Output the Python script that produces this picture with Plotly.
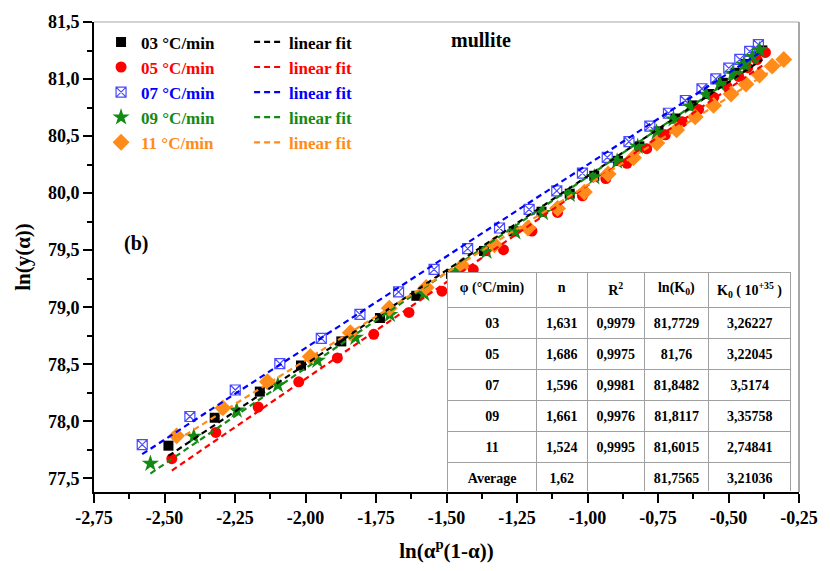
import numpy as np
import plotly.graph_objects as go

# ln(alpha^p (1-alpha)) vs ln(y(alpha)) for each heating rate
x03 = [-2.486, -2.322, -2.162, -2.016, -1.873, -1.736, -1.607, -1.484, -1.367, -1.262, -1.163, -1.063,
       -0.976, -0.892, -0.816, -0.748, -0.689, -0.627, -0.569, -0.520, -0.475, -0.440, -0.404, -0.380]
y03 = [77.786, 78.031, 78.260, 78.489, 78.700, 78.905, 79.100, 79.292, 79.493, 79.665, 79.837, 79.995,
       80.152, 80.283, 80.410, 80.541, 80.654, 80.769, 80.869, 80.967, 81.055, 81.132, 81.199, 81.251]

x05 = [-2.474, -2.318, -2.168, -2.024, -1.887, -1.758, -1.633, -1.516, -1.405, -1.298, -1.197, -1.106,
       -1.018, -0.935, -0.860, -0.790, -0.724, -0.664, -0.606, -0.552, -0.506, -0.464, -0.432, -0.399, -0.369]
y05 = [77.672, 77.902, 78.125, 78.346, 78.555, 78.762, 78.954, 79.140, 79.330, 79.504, 79.668, 79.831,
       79.977, 80.128, 80.261, 80.390, 80.511, 80.625, 80.734, 80.840, 80.937, 81.023, 81.100, 81.171, 81.233]

x07 = [-2.579, -2.410, -2.249, -2.091, -1.944, -1.807, -1.670, -1.544, -1.425, -1.312, -1.207, -1.109,
       -1.018, -0.930, -0.853, -0.779, -0.713, -0.653, -0.594, -0.545, -0.499, -0.460, -0.425, -0.394]
y07 = [77.795, 78.042, 78.274, 78.506, 78.726, 78.937, 79.134, 79.332, 79.513, 79.694, 79.857, 80.020,
       80.175, 80.313, 80.451, 80.588, 80.700, 80.812, 80.915, 81.001, 81.096, 81.173, 81.242, 81.302]

x09 = [-2.550, -2.396, -2.244, -2.098, -1.958, -1.823, -1.701, -1.579, -1.467, -1.358, -1.256, -1.158,
       -1.063, -0.976, -0.895, -0.822, -0.755, -0.695, -0.636, -0.580, -0.531, -0.485, -0.446, -0.415, -0.390]
y09 = [77.629, 77.867, 78.096, 78.317, 78.532, 78.734, 78.934, 79.117, 79.311, 79.487, 79.659, 79.827,
       79.986, 80.141, 80.278, 80.408, 80.532, 80.648, 80.760, 80.863, 80.958, 81.048, 81.126, 81.195, 81.255]

x11 = [-2.457, -2.293, -2.135, -1.983, -1.841, -1.703, -1.572, -1.444, -1.330, -1.211, -1.106, -1.011,
       -0.927, -0.837, -0.754, -0.684, -0.618, -0.553, -0.491, -0.438, -0.390, -0.345, -0.304]
y11 = [77.872, 78.117, 78.346, 78.567, 78.776, 78.991, 79.173, 79.364, 79.547, 79.694, 79.866, 80.009,
       80.167, 80.310, 80.439, 80.554, 80.668, 80.769, 80.869, 80.955, 81.035, 81.113, 81.171]

rates = ["03 °C/min", "05 °C/min", "07 °C/min", "09 °C/min", "11 °C/min"]

# kinetic parameters table
tab_phi = ["03", "05", "07", "09", "11", "Average"]
tab_n = ["1,631", "1,686", "1,596", "1,661", "1,524", "1,62"]
tab_r2 = ["0,9979", "0,9975", "0,9981", "0,9976", "0,9995", ""]
tab_lnk0 = ["81,7729", "81,76", "81,8482", "81,8117", "81,6015", "81,7565"]
tab_k0 = ["3,26227", "3,22045", "3,5174", "3,35758", "2,74841", "3,21036"]
tab_head = ["φ\u00a0(°C/min)", "n", "R<sup>2</sup>", "ln(K<sub>0</sub>)",
            "K<sub>0</sub>\u00a0(\u00a010<sup>+35</sup>\u00a0)"]

x_tickvals = [-2.75, -2.50, -2.25, -2.00, -1.75, -1.50, -1.25, -1.00, -0.75, -0.50, -0.25]
x_ticktext = ["-2,75", "-2,50", "-2,25", "-2,00", "-1,75", "-1,50", "-1,25", "-1,00", "-0,75", "-0,50", "-0,25"]
y_tickvals = [77.5, 78.0, 78.5, 79.0, 79.5, 80.0, 80.5, 81.0, 81.5]
y_ticktext = ["77,5", "78,0", "78,5", "79,0", "79,5", "80,0", "80,5", "81,0", "81,5"]

SERIF = "Liberation Serif, Times New Roman, serif"

series = [
    (x03, y03, "#000000", "#000000", dict(symbol="square", size=10)),
    (x05, y05, "#ff0000", "#ff0000", dict(symbol="circle", size=11)),
    (x07, y07, "#0000ff", "#4a4aff", dict(symbol="square-x-open", size=10, line=dict(width=1.2))),
    (x09, y09, "#138a13", "#138a13", dict(symbol="star", size=13)),
    (x11, y11, "#ff8c1a", "#ff8c1a", dict(symbol="diamond", size=13)),
]

fig = go.Figure()

for (xs, ys, tcol, mcol, mk), name in zip(series, rates):
    mk = dict(mk, color=mcol)
    fig.add_trace(go.Scatter(
        x=xs, y=ys, mode="markers", marker=mk,
        name=f"<b><span style='color:{tcol}'>{name}</span></b>",
        legend="legend",
    ))

for (xs, ys, tcol, mcol, mk), name in zip(series, rates):
    slope, icpt = np.polyfit(xs, ys, 1)
    xf = np.array([min(xs), max(xs)])
    fig.add_trace(go.Scatter(
        x=xf, y=slope * xf + icpt, mode="lines",
        line=dict(color=tcol, width=2.2, dash="6px,4px"),
        name=f"<b><span style='color:{tcol}'>linear fit</span></b>",
        legend="legend2",
    ))

fig.add_trace(go.Table(
    domain=dict(x=[0.5017, 0.9892], y=[0.0, 0.468]),
    columnwidth=[90, 51, 58, 65, 83],
    header=dict(values=[f"<b>{h}</b>" for h in tab_head], height=29, align="center",
                fill_color="white", line=dict(color="#a0a0a0", width=1),
                font=dict(family=SERIF, size=14, color="black")),
    cells=dict(values=[[f"<b>{v}</b>" for v in col] for col in (tab_phi, tab_n, tab_r2, tab_lnk0, tab_k0)],
               height=29, align="center", fill_color="white",
               line=dict(color="#a0a0a0", width=1),
               font=dict(family=SERIF, size=14, color="black")),
))

axis_common = dict(
    showgrid=False, zeroline=False, showline=True, linecolor="black", linewidth=1.6,
    ticks="outside", ticklen=9, tickwidth=1.5, tickcolor="black",
    tickfont=dict(family=SERIF, size=18, color="black"),
)

fig.update_layout(
    width=830, height=571,
    margin=dict(l=94, r=23, t=15, b=77),
    paper_bgcolor="white", plot_bgcolor="white",
    font=dict(family=SERIF, color="black"),
    showlegend=True,
    xaxis=dict(axis_common, range=[-2.75, -0.25], tickmode="array",
               tickvals=x_tickvals, ticktext=[f"<b>{t}</b>" for t in x_ticktext],
               minor=dict(dtick=0.125, tick0=-2.75, ticks="outside", ticklen=5, tickwidth=1.5, tickcolor="black"),
               title=dict(text="<b>ln(α<sup>p</sup>(1-α))</b>", font=dict(family=SERIF, size=21), standoff=16)),
    yaxis=dict(axis_common, range=[77.38, 81.5], tickmode="array",
               tickvals=y_tickvals, ticktext=[f"<b>{t}</b>" for t in y_ticktext],
               minor=dict(dtick=0.25, tick0=77.25, ticks="outside", ticklen=5, tickwidth=1.5, tickcolor="black"),
               title=dict(text="<b>ln(y(α))</b>", font=dict(family=SERIF, size=21), standoff=12)),
    legend=dict(x=0.010, y=0.995, xanchor="left", yanchor="top", bgcolor="rgba(0,0,0,0)",
                font=dict(family=SERIF, size=17), traceorder="normal", tracegroupgap=0),
    legend2=dict(x=0.220, y=0.995, xanchor="left", yanchor="top", bgcolor="rgba(0,0,0,0)",
                 font=dict(family=SERIF, size=17), traceorder="normal", tracegroupgap=0),
    shapes=[
        dict(type="line", xref="paper", yref="paper", x0=0, x1=1, y0=1, y1=1,
             line=dict(color="#a8a8a8", width=1.2)),
        dict(type="line", xref="paper", yref="paper", x0=1, x1=1, y0=0, y1=1,
             line=dict(color="#a8a8a8", width=2)),
    ],
    annotations=[
        dict(text="<b>mullite</b>", x=0.549, y=0.962, xref="paper", yref="paper",
             xanchor="center", yanchor="middle",
             showarrow=False, font=dict(family=SERIF, size=20, color="black")),
        dict(text="<b>(b)</b>", x=0.059, y=0.528, xref="paper", yref="paper",
             xanchor="center", yanchor="middle",
             showarrow=False, font=dict(family=SERIF, size=20, color="black")),
    ],
)

fig.write_html("out.html")
